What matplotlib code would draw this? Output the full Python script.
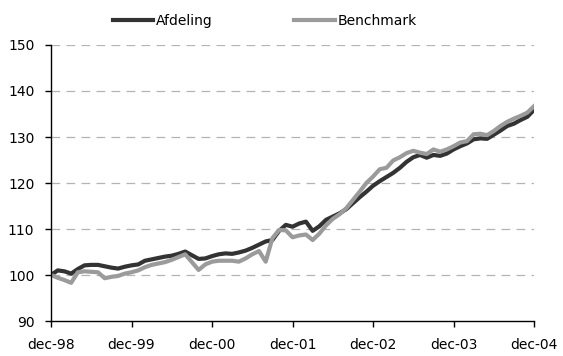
import numpy as np
import matplotlib
matplotlib.use("Agg")
import matplotlib.pyplot as plt

# monthly index values, dec-98 .. dec-04
afdeling = [
    100.0, 101.0, 100.8, 100.3, 101.3, 102.1, 102.2, 102.2, 101.9, 101.6,
    101.4, 101.8, 102.1, 102.3, 103.1, 103.4, 103.7, 104.0, 104.2, 104.6,
    105.1, 104.3, 103.5, 103.6, 104.1, 104.5, 104.7, 104.6, 104.9, 105.3,
    105.9, 106.6, 107.3, 107.6, 109.6, 110.9, 110.5, 111.2, 111.6, 109.6,
    110.6, 112.0, 112.7, 113.4, 114.3, 115.6, 116.9, 118.1, 119.4, 120.4,
    121.3, 122.2, 123.3, 124.6, 125.6, 126.1, 125.5, 126.1, 125.9, 126.4,
    127.3, 128.0, 128.6, 129.5, 129.7, 129.6, 130.5, 131.4, 132.4, 132.9,
    133.7, 134.4, 135.9,
]
benchmark = [
    100.0, 99.4, 98.9, 98.3, 100.6, 100.8, 100.7, 100.6, 99.3, 99.6,
    99.8, 100.3, 100.6, 101.0, 101.7, 102.2, 102.5, 102.8, 103.3, 103.9,
    104.5, 102.8, 101.1, 102.3, 102.9, 103.1, 103.1, 103.1, 102.9, 103.6,
    104.5, 105.2, 102.9, 108.0, 109.8, 109.7, 108.2, 108.6, 108.8, 107.6,
    109.0, 110.8, 112.2, 113.2, 114.5, 116.3, 118.1, 120.0, 121.4, 123.0,
    123.3, 124.9, 125.6, 126.5, 127.0, 126.6, 126.3, 127.3, 126.8, 127.3,
    128.0, 128.8, 129.1, 130.6, 130.7, 130.4, 131.3, 132.4, 133.3, 134.0,
    134.6, 135.3, 136.7,
]
tick_labels = ["dec-98", "dec-99", "dec-00", "dec-01", "dec-02", "dec-03", "dec-04"]
series_names = ["Afdeling", "Benchmark"]
series_colors = ["#333333", "#9b9b9b"]

plt.rcParams["font.family"] = ["DejaVu Sans"]

fig = plt.figure(figsize=(5.63, 3.56), dpi=100)
ax = fig.add_axes([0.0906, 0.0983, 0.858, 0.7753])

months = np.arange(len(afdeling))
for vals, name, col in zip([afdeling, benchmark], series_names, series_colors):
    ax.plot(months, vals, color=col, lw=3.0, label=name, solid_joinstyle="round")

ax.set_xlim(0, 72)
ax.set_ylim(90, 150)
ax.set_xticks(np.arange(0, 73, 12))
ax.set_xticklabels(tick_labels)
ax.set_yticks(np.arange(90, 151, 10))

for y in range(100, 151, 10):
    ax.axhline(y, color="#b4b4b4", lw=0.9, dashes=(7, 5), zorder=0)

for s in ["top", "right"]:
    ax.spines[s].set_visible(False)
ax.spines["left"].set_linewidth(1.0)
ax.spines["bottom"].set_linewidth(1.0)
ax.tick_params(direction="out", length=4, width=1.0, labelsize=10, colors="black")
ax.tick_params(axis="x", pad=8)
ax.tick_params(axis="y", pad=8)

fig.legend(loc="center", bbox_to_anchor=(0.47, 0.94), ncol=2, frameon=False,
           fontsize=10, handlelength=2.9, handletextpad=0.2, columnspacing=5.9)

fig.savefig("out.png", dpi=100)
